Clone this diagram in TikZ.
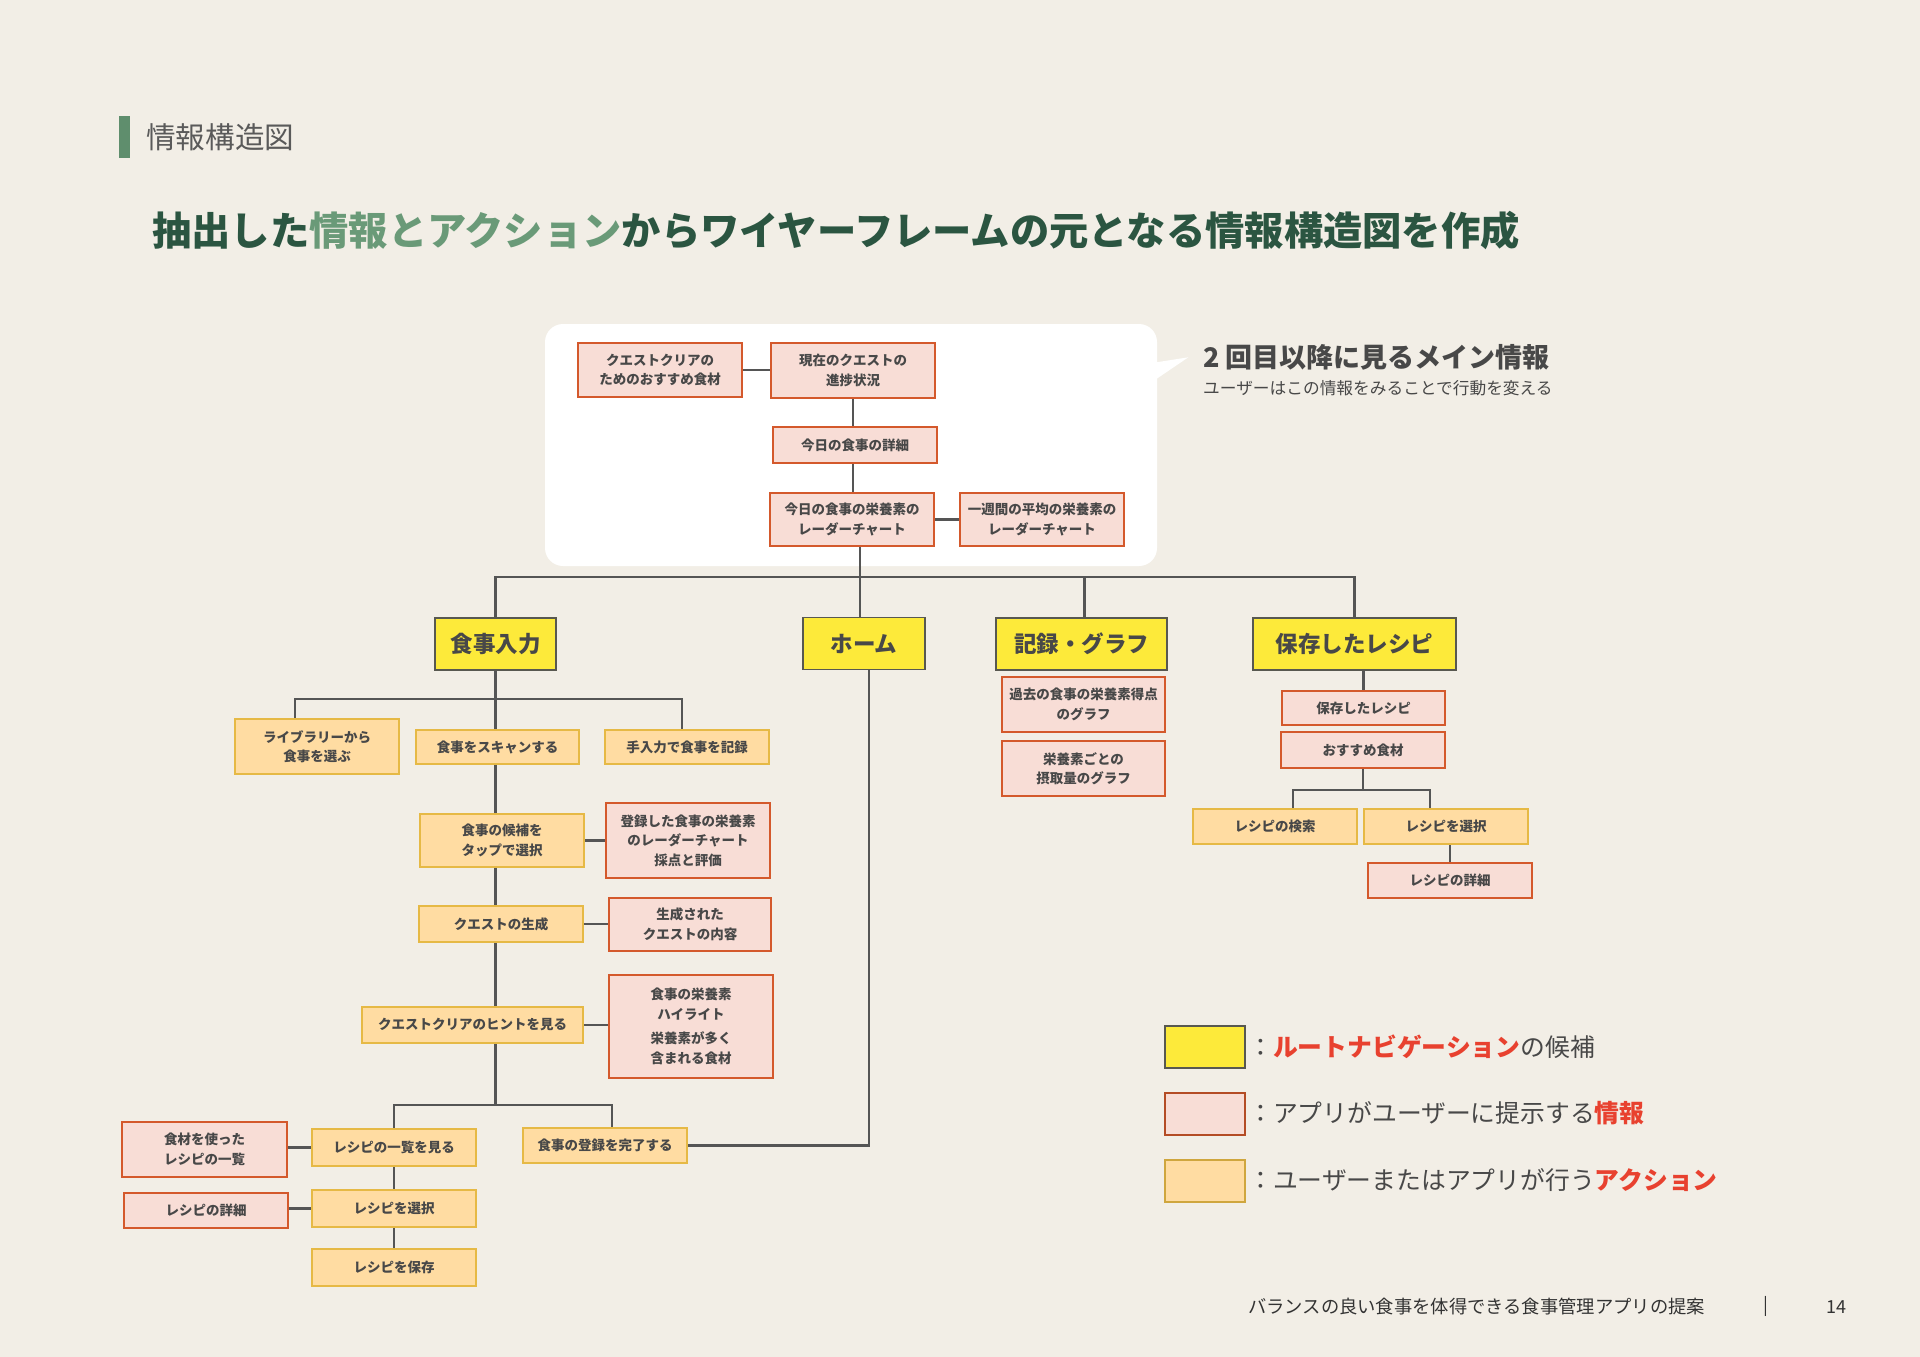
\documentclass[tikz,border=0pt]{standalone}
\usepackage{fontspec}
\setmainfont{Noto Sans CJK JP}
\definecolor{pagebg}{HTML}{F2EEE6}
\definecolor{hdrgreen}{HTML}{5F8E6D}
\definecolor{dkgreen}{HTML}{2B5541}
\definecolor{ltgreen}{HTML}{6A9A78}
\definecolor{txt}{HTML}{484848}
\definecolor{navfill}{HTML}{FDEA3A}
\definecolor{navdraw}{HTML}{585850}
\definecolor{infofill}{HTML}{F8DDD6}
\definecolor{infodraw}{HTML}{D4592C}
\definecolor{actfill}{HTML}{FFDCA2}
\definecolor{actdraw}{HTML}{E6B945}
\definecolor{lin}{HTML}{555555}
\definecolor{accent}{HTML}{E8412F}
\newcommand\fsz[2]{\fontsize{#1}{#2}\selectfont}
\newcommand\hl[1]{\textcolor{accent}{\bfseries #1}}
\pgfdeclarelayer{bgl}
\pgfdeclarelayer{lines}
\pgfsetlayers{bgl,lines,main}
\tikzset{
  box/.style={rectangle, inner sep=0pt, align=center, text=txt, font=\bfseries\fsz{13.5}{19.5}},
  nav/.style={box, fill=navfill, draw=navdraw, line width=1.8pt, font=\bfseries\fsz{22.5}{26}},
  info/.style={box, fill=infofill, draw=infodraw, line width=1.6pt},
  act/.style={box, fill=actfill, draw=actdraw, line width=1.6pt},
  conn/.style={draw=lin, line width=2.2pt},
  wh/.style 2 args={minimum width=#1pt, minimum height=#2pt},
  plain/.style={inner sep=0pt, anchor=west, text=txt},
}
\begin{document}
\begin{tikzpicture}[x=1pt,y=-1pt]
\useasboundingbox (0,0) rectangle (1920,1357);
\begin{pgfonlayer}{bgl}
\fill[pagebg] (0,0) rectangle (1920,1357);
\fill[white, rounded corners=18pt] (545,324) rectangle (1157,566);
\fill[white] (1150,363.3) -- (1188.3,357.3) -- (1150,383.3) -- cycle;
\fill[hdrgreen] (119,116) rectangle (130,158);
\end{pgfonlayer}

% header and title
\node[plain, text=txt!90, font=\fsz{29.6}{29.6}] (hdr) at (146,137) {情報構造図};
\node[plain, font=\bfseries\fsz{39.3}{39.3}] (title) at (152,231)
  {\textcolor{dkgreen}{抽出した}\textcolor{ltgreen}{情報とアクション}\textcolor{dkgreen}{からワイヤーフレームの元となる情報構造図を作成}};

% callout contents
\node[info, wh={164}{54}] (q1) at (660,370) {クエストクリアの\\ためのおすすめ食材};
\node[info, wh={164}{55}] (q2) at (853,370.5) {現在のクエストの\\進捗状況};
\node[info, wh={164}{36}] (q3) at (855,445) {今日の食事の詳細};
\node[info, wh={164}{53}] (q4) at (852,519.5) {今日の食事の栄養素の\\レーダーチャート};
\node[info, wh={164}{53}] (q5) at (1042,519.5) {一週間の平均の栄養素の\\レーダーチャート};
\node[plain, font=\bfseries\fsz{27}{27}] (ch) at (1203,357) {2 回目以降に見るメイン情報};
\node[plain, font=\fsz{16.7}{16.7}] (cs) at (1203,388) {ユーザーはこの情報をみることで行動を変える};

% navigation
\node[nav, wh={121}{52}] (n1) at (495.5,644) {食事入力};
\node[nav, wh={122}{52}] (n2) at (864,643.5) {ホーム};
\node[nav, wh={171}{52}] (n3) at (1081.5,644) {記録・グラフ};
\node[nav, wh={203}{52}] (n4) at (1354.5,644) {保存したレシピ};

% meal input column
\node[act, wh={164}{55}] (a1) at (317,746.5) {ライブラリーから\\食事を選ぶ};
\node[act, wh={163}{34}] (a2) at (497.5,747) {食事をスキャンする};
\node[act, wh={164}{34}] (a3) at (687,747) {手入力で食事を記録};
\node[act, wh={164}{53}] (a4) at (502,840.5) {食事の候補を\\タップで選択};
\node[info, wh={164}{75}] (i1) at (688,840.5) {登録した食事の栄養素\\のレーダーチャート\\採点と評価};
\node[act, wh={164}{36}] (a5) at (501,924) {クエストの生成};
\node[info, wh={162}{53}] (i2) at (690,924.5) {生成された\\クエストの内容};
\node[act, wh={221}{36}] (a6) at (472.5,1025) {クエストクリアのヒントを見る};
\node[info, wh={164}{103}] (i3) at (691,1026.5) {食事の栄養素\\ハイライト\\[5pt]栄養素が多く\\含まれる食材};
\node[act, wh={164}{37}] (a7) at (394,1147.5) {レシピの一覧を見る};
\node[act, wh={164}{35}] (a8) at (605,1145.5) {食事の登録を完了する};
\node[info, wh={165}{55}] (i4) at (204.5,1149.5) {食材を使った\\レシピの一覧};
\node[act, wh={164}{37}] (a9) at (394,1208.5) {レシピを選択};
\node[info, wh={164}{35}] (i5) at (206,1210.5) {レシピの詳細};
\node[act, wh={164}{37}] (a10) at (394,1267.5) {レシピを保存};

% record / graph
\node[info, wh={163}{55}] (i6) at (1083.5,704.5) {過去の食事の栄養素得点\\のグラフ};
\node[info, wh={163}{55}] (i7) at (1083.5,768.5) {栄養素ごとの\\摂取量のグラフ};

% saved recipes
\node[info, wh={163}{34}] (i8) at (1363.5,708) {保存したレシピ};
\node[info, wh={164}{36}] (i9) at (1363,750) {おすすめ食材};
\node[act, wh={164}{35}] (a11) at (1275,826.5) {レシピの検索};
\node[act, wh={164}{35}] (a12) at (1446,826.5) {レシピを選択};
\node[info, wh={164}{35}] (i10) at (1450,880.5) {レシピの詳細};

% legend
\node[nav, wh={80}{42}] (L1) at (1205,1047) {};
\node[info, wh={80}{42}, draw=infodraw!85!black] (L2) at (1205,1114) {};
\node[act, wh={80}{42}, draw=actdraw!90!black] (L3) at (1205,1181) {};
\node[plain, font=\fsz{24.8}{24.8}] (L1t) at (1248,1047) {：\hl{ルートナビゲーション}の候補};
\node[plain, font=\fsz{24.8}{24.8}] (L2t) at (1248,1113) {：アプリがユーザーに提示する\hl{情報}};
\node[plain, font=\fsz{24.8}{24.8}] (L3t) at (1248,1180) {：ユーザーまたはアプリが行う\hl{アクション}};

% footer
\node[plain, text=black!80, font=\fsz{18.3}{18.3}] (ft) at (1248,1307) {バランスの良い食事を体得できる食事管理アプリの提案};
\node[inner sep=0pt, text=black!80, font=\fsz{18}{18}] (bar) at (1766,1306) {|};
\node[inner sep=0pt, text=black!80, font=\fsz{18}{18}] (pg) at (1836,1307) {14};

\begin{pgfonlayer}{lines}
\coordinate (b0) at (0,577);
\coordinate (b1) at (0,699);
\coordinate (b2) at (0,1105);
\coordinate (b3) at (0,790);
% callout
\draw[conn] (q1.east) -- (q1.east -| q2.west);
\draw[conn] (q2.south) -- (q2.south |- q3.north);
\draw[conn] (q3.south -| q2.south) -- (q2.south |- q4.north);
\draw[conn] (q4.east) -- (q4.east -| q5.west);
% top bus
\draw[conn] ([xshift=8pt]q4.south) -- ([xshift=8pt]q4.south |- b0);
\draw[conn] (n1.north) -- (n1.north |- b0) -- (n4.north |- b0) -- (n4.north);
\draw[conn] ([xshift=-4pt]n2.north) -- ([xshift=-4pt]n2.north |- b0);
\draw[conn] ([xshift=3pt]n3.north) -- ([xshift=3pt]n3.north |- b0);
% meal input
\draw[conn] (n1.south) -- (n1.south |- a2.north);
\draw[conn] ([xshift=-22pt]a1.north) -- ([xshift=-22pt]a1.north |- b1) -- ([xshift=-5pt]a3.north |- b1) -- ([xshift=-5pt]a3.north);
\draw[conn] (a2.south -| n1.south) -- (a4.north -| n1.south);
\draw[conn] (a4.south -| n1.south) -- (a5.north -| n1.south);
\draw[conn] (a5.south -| n1.south) -- (a6.north -| n1.south);
\draw[conn] (a6.south -| n1.south) -- (n1.south |- b2);
\draw[conn] (a7.north) -- (a7.north |- b2) -- ([xshift=7pt]a8.north |- b2) -- ([xshift=7pt]a8.north);
\draw[conn] (a4.east) -- (a4.east -| i1.west);
\draw[conn] (a5.east) -- (a5.east -| i2.west);
\draw[conn] (a6.east) -- (a6.east -| i3.west);
\draw[conn] (a7.west) -- (a7.west -| i4.east);
\draw[conn] (a9.west) -- (a9.west -| i5.east);
\draw[conn] (a7.south) -- (a9.north);
\draw[conn] (a9.south) -- (a10.north);
\draw[conn] (a8.east) -| ([xshift=5pt]n2.south);
% saved recipes
\draw[conn] (i8.north) -- (i8.north |- n4.south);
\draw[conn] (i9.south) -- (i9.south |- b3);
\draw[conn] ([xshift=18pt]a11.north) -- ([xshift=18pt]a11.north |- b3) -- ([xshift=-16pt]a12.north |- b3) -- ([xshift=-16pt]a12.north);
\draw[conn] (i10.north) -- (i10.north |- a12.south);
\end{pgfonlayer}
\end{tikzpicture}
\end{document}
